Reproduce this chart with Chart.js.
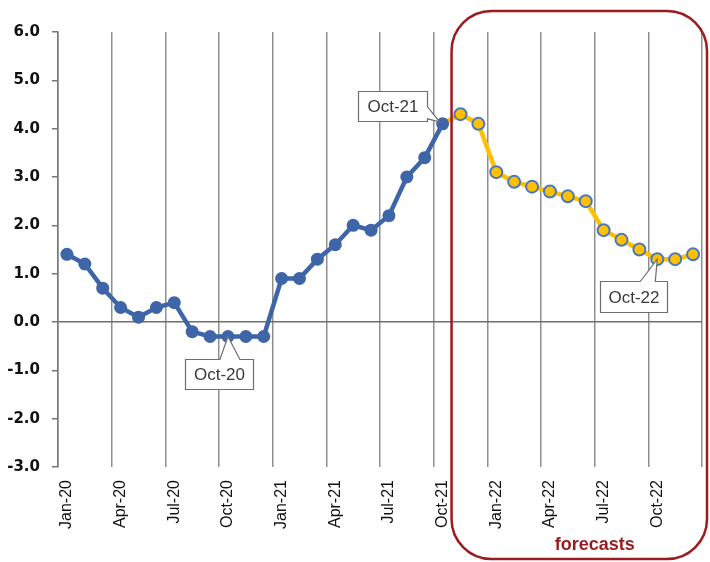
<!DOCTYPE html>
<html>
<head>
<meta charset="utf-8">
<script src="https://cdn.jsdelivr.net/npm/chart.js@4.4.1/dist/chart.umd.min.js"></script>
<style>
  html, body { margin: 0; padding: 0; background: #fff; }
  #wrap { width: 710px; height: 562px; position: relative; }
</style>
</head>
<body>
<div id="wrap"><canvas id="inflChart"></canvas></div>
<script>
// 月份標籤 Jan-20 .. Dec-22
const months = [
    'Jan-20','Feb-20','Mar-20','Apr-20','May-20','Jun-20','Jul-20','Aug-20','Sep-20','Oct-20','Nov-20','Dec-20',
    'Jan-21','Feb-21','Mar-21','Apr-21','May-21','Jun-21','Jul-21','Aug-21','Sep-21','Oct-21','Nov-21','Dec-21',
    'Jan-22','Feb-22','Mar-22','Apr-22','May-22','Jun-22','Jul-22','Aug-22','Sep-22','Oct-22','Nov-22','Dec-22'
];

// 實際值 Jan-20 .. Oct-21
const actual = [1.4, 1.2, 0.7, 0.3, 0.1, 0.3, 0.4, -0.2, -0.3, -0.3, -0.3, -0.3,
                0.9, 0.9, 1.3, 1.6, 2.0, 1.9, 2.2, 3.0, 3.4, 4.1];

// 預測值 Nov-21 .. Dec-22
const forecast = [4.3, 4.1, 3.1, 2.9, 2.8, 2.7, 2.6, 2.5, 1.9, 1.7, 1.5, 1.3, 1.3, 1.4];

const yTicks = [-3, -2, -1, 0, 1, 2, 3, 4, 5, 6];
const calloutLabels = ['Oct-20', 'Oct-21', 'Oct-22'];
const forecastText = 'forecasts';

// 建立圖表用的序列
const lastActual = actual.length - 1;
const actualSeries = months.map((m, i) => i <= lastActual ? actual[i] : null);
const forecastSeries = months.map((m, i) => {
    if (i < lastActual) return null;
    if (i === lastActual) return actual[lastActual];
    return forecast[i - lastActual - 1];
});

const BLUE = '#3D65A8';
const GOLD = '#FFC000';
const DARKRED = '#9B1B1E';

// 標註框的樣式 (相對於資料點)
const calloutStyle = {
    'Oct-20': { dx: -43, dy: 22, w: 68, h: 30, side: 'top', t1: -8, t2: 12 },
    'Oct-21': { dx: -85, dy: -33, w: 69, h: 30, side: 'right', t1: -17, t2: -5 },
    'Oct-22': { dx: -57, dy: 22, w: 67, h: 31, side: 'top', t1: -17, t2: -2 }
};

const overlayPlugin = {
    id: 'overlay',
    afterDatasetsDraw(chart) {
        const ctx = chart.ctx;
        const xs = chart.scales.x;
        const ys = chart.scales.y;
        const area = chart.chartArea;

        // 預測區塊的圓角框
        const left = xs.getPixelForValue(lastActual + 0.5);
        const right = chart.width - 3;
        const top = area.top - 21;
        const bottom = chart.height - 3;
        const r = 40;
        ctx.save();
        ctx.strokeStyle = DARKRED;
        ctx.lineWidth = 2.5;
        ctx.beginPath();
        ctx.roundRect(left, top, right - left, bottom - top, r);
        ctx.stroke();
        ctx.fillStyle = DARKRED;
        ctx.font = 'bold 18px "Liberation Sans", Arial, sans-serif';
        ctx.textAlign = 'center';
        ctx.textBaseline = 'middle';
        ctx.fillText(forecastText, xs.getPixelForValue(29.5), bottom - 14);
        ctx.restore();

        // 標註框
        calloutLabels.forEach(lbl => {
            const idx = months.indexOf(lbl);
            const val = idx <= lastActual ? actual[idx] : forecast[idx - lastActual - 1];
            const px = xs.getPixelForValue(idx);
            const py = ys.getPixelForValue(val);
            const s = calloutStyle[lbl];
            const L = Math.round(px + s.dx) + 0.5, T = Math.round(py + s.dy) + 0.5;
            const R = L + s.w, B = T + s.h;
            ctx.save();
            ctx.beginPath();
            if (s.side === 'top') {
                ctx.moveTo(L, T);
                ctx.lineTo(px + s.t1, T);
                ctx.lineTo(px, py);
                ctx.lineTo(px + s.t2, T);
                ctx.lineTo(R, T);
                ctx.lineTo(R, B);
                ctx.lineTo(L, B);
            } else {
                ctx.moveTo(L, T);
                ctx.lineTo(R, T);
                ctx.lineTo(R, py + s.t1);
                ctx.lineTo(px - 3, py - 2);
                ctx.lineTo(R, py + s.t2);
                ctx.lineTo(R, B);
                ctx.lineTo(L, B);
            }
            ctx.closePath();
            ctx.fillStyle = '#ffffff';
            ctx.fill();
            ctx.strokeStyle = '#6e6e6e';
            ctx.lineWidth = 1.2;
            ctx.stroke();
            ctx.fillStyle = '#3a3a3a';
            ctx.font = '17px "Liberation Sans", Arial, sans-serif';
            ctx.textAlign = 'center';
            ctx.textBaseline = 'middle';
            ctx.fillText(lbl, (L + R) / 2, (T + B) / 2 + 1);
            ctx.restore();
        });
    }
};

new Chart(document.getElementById('inflChart'), {
    type: 'line',
    data: {
        labels: months,
        datasets: [{
            label: 'actual',
            data: actualSeries,
            borderColor: BLUE,
            backgroundColor: BLUE,
            borderWidth: 4.5,
            pointRadius: 6.5,
            pointBorderWidth: 0,
            pointBackgroundColor: BLUE,
            tension: 0,
            fill: false
        },
        {
            label: 'forecast',
            data: forecastSeries,
            borderColor: GOLD,
            backgroundColor: GOLD,
            borderWidth: 4.5,
            pointRadius: c => c.dataIndex === lastActual ? 0 : 6,
            pointBorderWidth: 2,
            pointBorderColor: '#4A78C0',
            pointBackgroundColor: GOLD,
            tension: 0,
            fill: false
        }]
    },
    options: {
        responsive: true,
        maintainAspectRatio: false,
        animation: false,
        layout: { padding: { top: 32, right: 8, left: 0, bottom: 0 } },
        plugins: {
            legend: { display: false },
            tooltip: { enabled: false },
            title: { display: false }
        },
        scales: {
            x: {
                offset: true,
                grid: {
                    offset: true,
                    drawTicks: false,
                    lineWidth: 1.5,
                    color: c => (c.type === 'scale' || c.index % 3 === 0) ? '#8f8f8f' : 'rgba(0,0,0,0)'
                },
                border: { display: false },
                ticks: {
                    autoSkip: false,
                    maxRotation: 90,
                    minRotation: 90,
                    padding: 13,
                    color: '#111',
                    font: { family: '"Liberation Sans", Arial, sans-serif', size: 16 },
                    callback: function(v, i) { return i % 3 === 0 ? months[i] : ''; }
                },
                afterFit: s => {
                    s.height = 95;
                    s.paddingLeft = 0;
                    s.paddingRight = 0;
                }
            },
            y: {
                min: -3,
                max: 6,
                afterBuildTicks: s => { s.ticks = yTicks.map(v => ({ value: v })); },
                grid: {
                    drawTicks: true,
                    tickLength: 6,
                    tickColor: '#777',
                    lineWidth: 1.5,
                    color: c => (c.tick && c.tick.value === 0) ? '#6e6e6e' : 'rgba(0,0,0,0)'
                },
                border: { display: true, color: '#777', width: 1.5 },
                ticks: {
                    padding: 12,
                    color: '#111',
                    font: { family: '"DejaVu Sans", Verdana, sans-serif', size: 15, weight: 'bold' },
                    callback: v => Number(v).toFixed(1)
                },
                afterFit: s => { s.width = 58; }
            }
        }
    },
    plugins: [overlayPlugin]
});
</script>
</body>
</html>
